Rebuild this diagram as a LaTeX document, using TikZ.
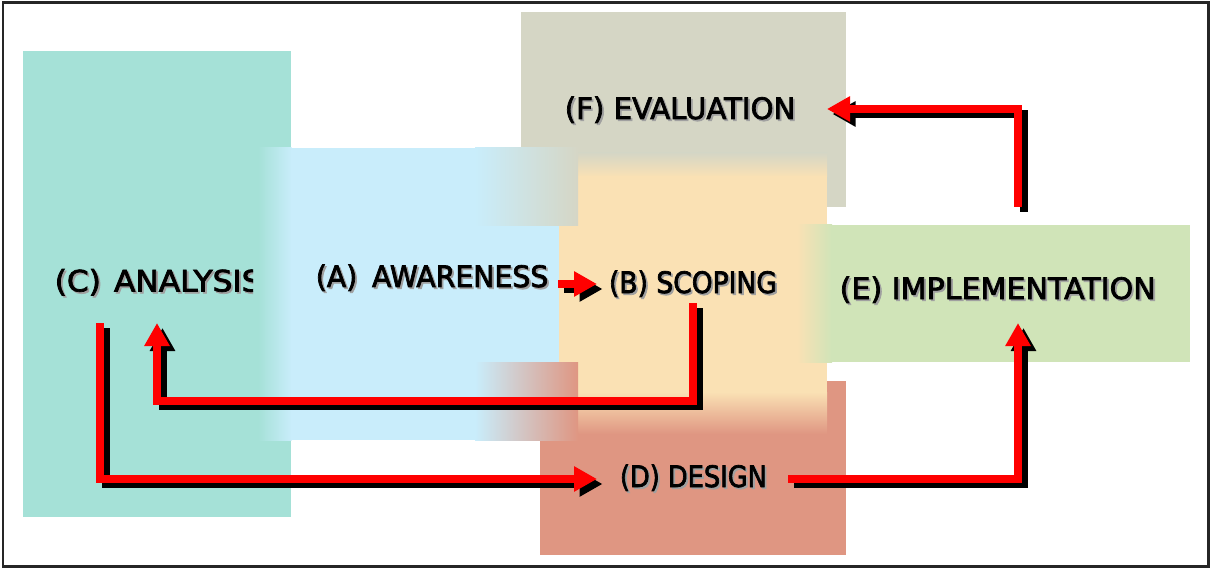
\documentclass[tikz,border=0pt]{standalone}
\usepackage{fontspec}
\usepackage{graphicx}
\setmainfont{DejaVu Sans}
\newfontfamily\lblfont{DejaVu Sans}[FakeBold=2.5]
\usetikzlibrary{arrows.meta}
\definecolor{cteal}{HTML}{A5E1D7}
\definecolor{cblue}{HTML}{C9EDFB}
\definecolor{cgray}{HTML}{D5D6C5}
\definecolor{cbeige}{HTML}{FAE1B4}
\definecolor{csalmon}{HTML}{DF9682}
\definecolor{cgreen}{HTML}{D0E4B8}
\definecolor{tshadow}{HTML}{A0A0A0}
\begin{document}
\begin{tikzpicture}[x=1pt,y=-1pt,
  lbl/.style={anchor=base west, inner sep=0pt, font=\lblfont\fontsize{29.5}{32}\selectfont, text=black},
  lblsh/.style={lbl, text=tshadow},
  flow/.style={line width=8pt, red, line join=miter, line cap=butt, -{Triangle[length=23pt,width=24pt]}},
  flowsh/.style={flow, black, transform canvas={xshift=5.5pt,yshift=-5pt}},
  ]
\useasboundingbox (0,0) rectangle (1212,569);
% frame
\draw[line width=2.5pt, black!85] (3,2.5) rectangle (1208.5,566.5);
% C box
\fill[cteal] (23,51) rectangle (291,517);
% F box
\fill[cgray] (521,12) rectangle (846,207);
% D box
\fill[csalmon] (540,381) rectangle (846,555);
% B box
\shade[top color=cgray, bottom color=cbeige] (578,153) rectangle (827,177);
\fill[cbeige] (578,176) rectangle (827,393);
\shade[top color=cbeige, bottom color=csalmon] (578,392) rectangle (827,434);
% A box
\shade[left color=cteal, right color=cblue] (258,148) rectangle (291.5,440);
\fill[cblue] (291,148) rectangle (578,440);
\shade[left color=cblue, right color=cgray] (475,148) rectangle (578,226);
\shade[left color=cblue, right color=csalmon] (475,362) rectangle (578,440);
\fill[cbeige] (559,226) rectangle (579,362);
% E box
\shade[left color=cbeige, right color=cgreen] (797,225) rectangle (832,362);
\fill[cgreen] (831,225) rectangle (1190,362);

% labels
\begin{scope}
\clip (0,0) rectangle (253,569);
\node[lblsh] (csh) at (56.3,293.3) {\scalebox{1.06}[1]{(C)\hspace{3pt} ANALYSIS}};
\node[lbl] (c) at (54.5,291.5) {\scalebox{1.06}[1]{(C)\hspace{3pt} ANALYSIS}};
\end{scope}
\node[lblsh] (ash) at (317.4,288.8) {\scalebox{0.96}[1]{(A)\hspace{6pt} AWARENESS}};
\node[lbl] (a) at (315.6,287) {\scalebox{0.96}[1]{(A)\hspace{6pt} AWARENESS}};
\node[lblsh] (bsh) at (610.6,294.8) {\scalebox{0.9}[1]{(B) SCOPING}};
\node[lbl] (b) at (608.8,293) {\scalebox{0.9}[1]{(B) SCOPING}};
\node[lblsh] (dsh) at (621.6,488.8) {\scalebox{0.87}[1]{(D) DESIGN}};
\node[lbl] (d) at (619.8,487) {\scalebox{0.87}[1]{(D) DESIGN}};
\node[lblsh] (esh) at (841.3,300.8) {\scalebox{1.02}[1]{(E) IMPLEMENTATION}};
\node[lbl] (e) at (839.5,299) {\scalebox{1.02}[1]{(E) IMPLEMENTATION}};
\node[lblsh] (fsh) at (566.4,120.8) {\scalebox{0.99}[1]{(F) EVALUATION}};
\node[lbl] (f) at (564.6,119) {\scalebox{0.99}[1]{(F) EVALUATION}};

% connector points
\coordinate (ab0) at (558,284);
\coordinate (ab1) at (597,284);
\coordinate (ef0) at (1018,207);
\coordinate (ef1) at (1018,109);
\coordinate (ef2) at (827,109);
\coordinate (bc0) at (693,303);
\coordinate (bc1) at (693,401);
\coordinate (bc2) at (157,401);
\coordinate (bc3) at (157,323);
\coordinate (cd0) at (100,323);
\coordinate (cd1) at (100,479);
\coordinate (cd2) at (597,479);
\coordinate (de0) at (788,479);
\coordinate (de1) at (1018,479);
\coordinate (de2) at (1018,323);

% shadows
\draw[flowsh] (ab0) -- (ab1);
\draw[flowsh] (ef0) -- (ef1) -- (ef2);
\draw[flowsh] (bc0) -- (bc1) -- (bc2) -- (bc3);
\draw[flowsh] (cd0) -- (cd1) -- (cd2);
\draw[flowsh] (de0) -- (de1) -- (de2);
% red arrows
\draw[flow] (ab0) -- (ab1);
\draw[flow] (ef0) -- (ef1) -- (ef2);
\draw[flow] (bc0) -- (bc1) -- (bc2) -- (bc3);
\draw[flow] (cd0) -- (cd1) -- (cd2);
\draw[flow] (de0) -- (de1) -- (de2);
\end{tikzpicture}
\end{document}
